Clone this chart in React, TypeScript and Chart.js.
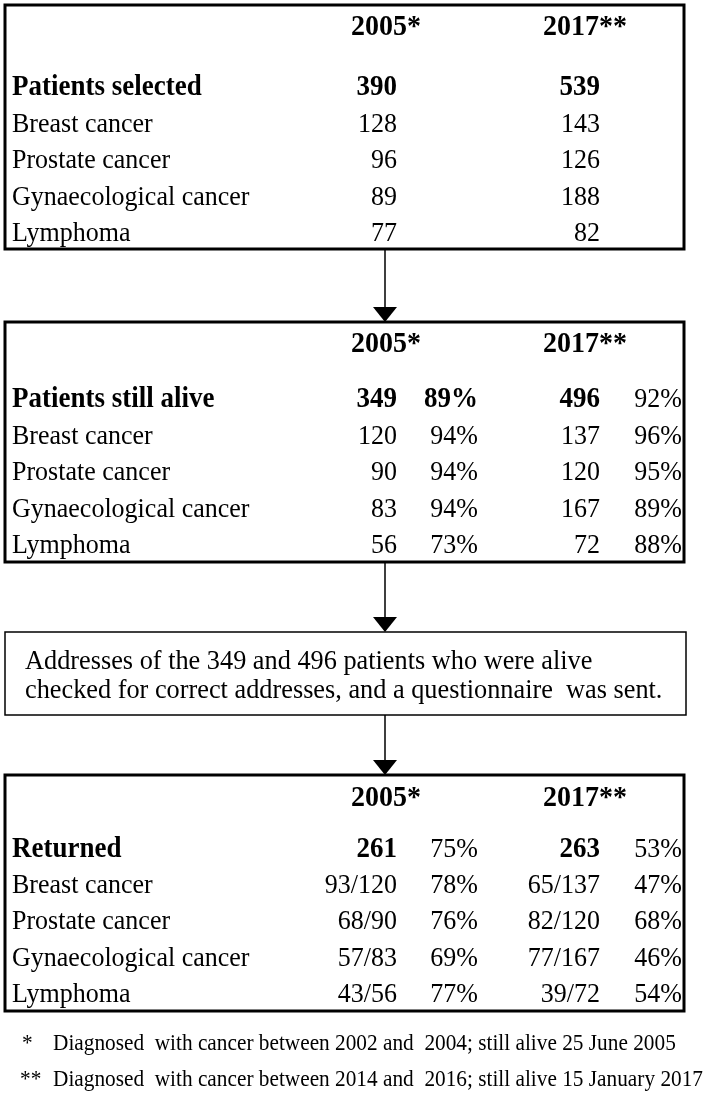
import React, { useEffect, useRef } from "react";
import { Chart, registerables } from "chart.js";

Chart.register(...registerables);

// ---------- data ----------
const categories = ["Breast cancer", "Prostate cancer", "Gynaecological cancer", "Lymphoma"];
const yearLabels = ["2005*", "2017**"];

const selected2005 = [128, 96, 89, 77];
const selected2017 = [143, 126, 188, 82];
const selectedTotal = [390, 539];

const alive2005 = [120, 90, 83, 56];
const alive2017 = [137, 120, 167, 72];
const alivePct2005 = [94, 94, 94, 73];
const alivePct2017 = [96, 95, 89, 88];
const aliveTotal = [349, 496];
const aliveTotalPct = [89, 92];

const returned2005 = [93, 68, 57, 43];
const returned2017 = [65, 82, 77, 39];
const returnedPct2005 = [78, 76, 69, 77];
const returnedPct2017 = [47, 68, 46, 54];
const returnedTotal = [261, 263];
const returnedTotalPct = [75, 53];

const addressText = [
  "Addresses of the 349 and 496 patients who were alive",
  "checked for correct addresses, and a questionnaire  was sent.",
];
const footnotes = [
  ["*", "Diagnosed  with cancer between 2002 and  2004; still alive 25 June 2005"],
  ["**", "Diagnosed  with cancer between 2014 and  2016; still alive 15 January 2017"],
];

// ---------- component ----------
const W = 709;
const H = 1095;
const SERIF = '"Liberation Serif", "Times New Roman", serif';

export default function App() {
  const ref = useRef<HTMLCanvasElement | null>(null);

  useEffect(() => {
    const canvas = ref.current;
    if (!canvas) return;

    const ARROW_X = 385;
    const arrows = [
      [249, 322],
      [562, 632],
      [715, 775],
    ];

    const flowPlugin = {
      id: "flow",
      afterDatasetsDraw(chart: any) {
        const ctx = chart.ctx as CanvasRenderingContext2D;
        const sx = chart.scales.x;
        const sy = chart.scales.y;
        const X = (v: number) => sx.getPixelForValue(v);
        const Y = (v: number) => sy.getPixelForValue(v);

        const FS = 26;
        const FB = 27;
        const txt = (s: string, x: number, y: number, align: CanvasTextAlign, bold = false, size?: number) => {
          const sz = size ?? (bold ? FB : FS);
          ctx.save();
          ctx.font = `${bold ? "bold " : ""}${sz}px ${SERIF}`;
          ctx.textAlign = align;
          ctx.textBaseline = "alphabetic";
          ctx.fillStyle = "#000";
          ctx.translate(X(x), Y(y));
          ctx.scale(1, 1.06);
          ctx.fillText(s, 0, 0);
          ctx.restore();
        };
        const box = (x0: number, y0: number, x1: number, y1: number, lw: number) => {
          ctx.save();
          ctx.lineWidth = lw;
          ctx.strokeStyle = "#000";
          ctx.strokeRect(X(x0), Y(y0), X(x1) - X(x0), Y(y1) - Y(y0));
          ctx.restore();
        };
        const head = (tipY: number) => {
          ctx.save();
          ctx.fillStyle = "#000";
          ctx.beginPath();
          ctx.moveTo(X(ARROW_X), Y(tipY));
          ctx.lineTo(X(ARROW_X - 12), Y(tipY - 15));
          ctx.lineTo(X(ARROW_X + 12), Y(tipY - 15));
          ctx.closePath();
          ctx.fill();
          ctx.restore();
        };

        const LEFT = 5;
        const RIGHT = 684;
        const LABEL_X = 12;
        const C1 = 397;
        const P1 = 478;
        const C2 = 600;
        const P2 = 682;
        const H1 = 386;
        const H2 = 585;
        const STEP = 36.6;

        const header = (base: number) => {
          txt(yearLabels[0], H1, base, "center", true, 28);
          txt(yearLabels[1], H2, base, "center", true, 28);
        };

        // Box 1
        box(LEFT, 5, RIGHT, 249, 3);
        header(35);
        txt("Patients selected", LABEL_X, 95, "left", true);
        txt(String(selectedTotal[0]), C1, 95, "right", true);
        txt(String(selectedTotal[1]), C2, 95, "right", true);
        categories.forEach((c, i) => {
          const b = 95 + STEP * (i + 1);
          txt(c, LABEL_X, b, "left");
          txt(String(selected2005[i]), C1, b, "right");
          txt(String(selected2017[i]), C2, b, "right");
        });

        // Box 2
        box(LEFT, 322, RIGHT, 562, 3);
        header(352);
        txt("Patients still alive", LABEL_X, 407, "left", true);
        txt(String(aliveTotal[0]), C1, 407, "right", true);
        txt(aliveTotalPct[0] + "%", P1, 407, "right", true);
        txt(String(aliveTotal[1]), C2, 407, "right", true);
        txt(aliveTotalPct[1] + "%", P2, 407, "right");
        categories.forEach((c, i) => {
          const b = 407 + STEP * (i + 1);
          txt(c, LABEL_X, b, "left");
          txt(String(alive2005[i]), C1, b, "right");
          txt(alivePct2005[i] + "%", P1, b, "right");
          txt(String(alive2017[i]), C2, b, "right");
          txt(alivePct2017[i] + "%", P2, b, "right");
        });

        // Box 3
        box(LEFT, 632, RIGHT + 2, 715, 1.5);
        txt(addressText[0], 25, 669, "left", false, 26.3);
        txt(addressText[1], 25, 698, "left", false, 26.3);

        // Box 4
        box(LEFT, 775, RIGHT, 1011, 3);
        header(806);
        txt("Returned", LABEL_X, 857, "left", true);
        txt(String(returnedTotal[0]), C1, 857, "right", true);
        txt(returnedTotalPct[0] + "%", P1, 857, "right");
        txt(String(returnedTotal[1]), C2, 857, "right", true);
        txt(returnedTotalPct[1] + "%", P2, 857, "right");
        categories.forEach((c, i) => {
          const b = 857 + 36.2 * (i + 1);
          txt(c, LABEL_X, b, "left");
          txt(returned2005[i] + "/" + alive2005[i], C1, b, "right");
          txt(returnedPct2005[i] + "%", P1, b, "right");
          txt(returned2017[i] + "/" + alive2017[i], C2, b, "right");
          txt(returnedPct2017[i] + "%", P2, b, "right");
        });

        // footnotes
        footnotes.forEach((f, i) => {
          const b = 1050 + 36 * i;
          txt(f[0], f[0].length === 1 ? 22 : 20, b, "left", false, 21.3);
          txt(f[1], 53, b, "left", false, 21.3);
        });

        // arrow heads
        arrows.forEach((a) => head(a[1]));
      },
    };

    const chart = new Chart(canvas, {
      type: "scatter",
      data: {
        datasets: arrows.map((a) => ({
          data: [
            { x: ARROW_X, y: a[0] },
            { x: ARROW_X, y: a[1] - 12 },
          ],
          showLine: true,
          borderColor: "#000",
          borderWidth: 1.5,
          pointRadius: 0,
          fill: false,
        })),
      },
      options: {
        responsive: false,
        maintainAspectRatio: false,
        animation: false,
        layout: { padding: 0 },
        scales: {
          x: { type: "linear", min: 0, max: W, display: false },
          y: { type: "linear", min: 0, max: H, reverse: true, display: false },
        },
        plugins: { legend: { display: false }, tooltip: { enabled: false } },
      },
      plugins: [flowPlugin],
    });
    return () => chart.destroy();
  }, []);

  return (
    <div style={{ position: "absolute", left: 0, top: 0, width: W, height: H, background: "#fff" }}>
      <canvas ref={ref} width={W} height={H} style={{ width: W, height: H, display: "block" }} />
    </div>
  );
}
